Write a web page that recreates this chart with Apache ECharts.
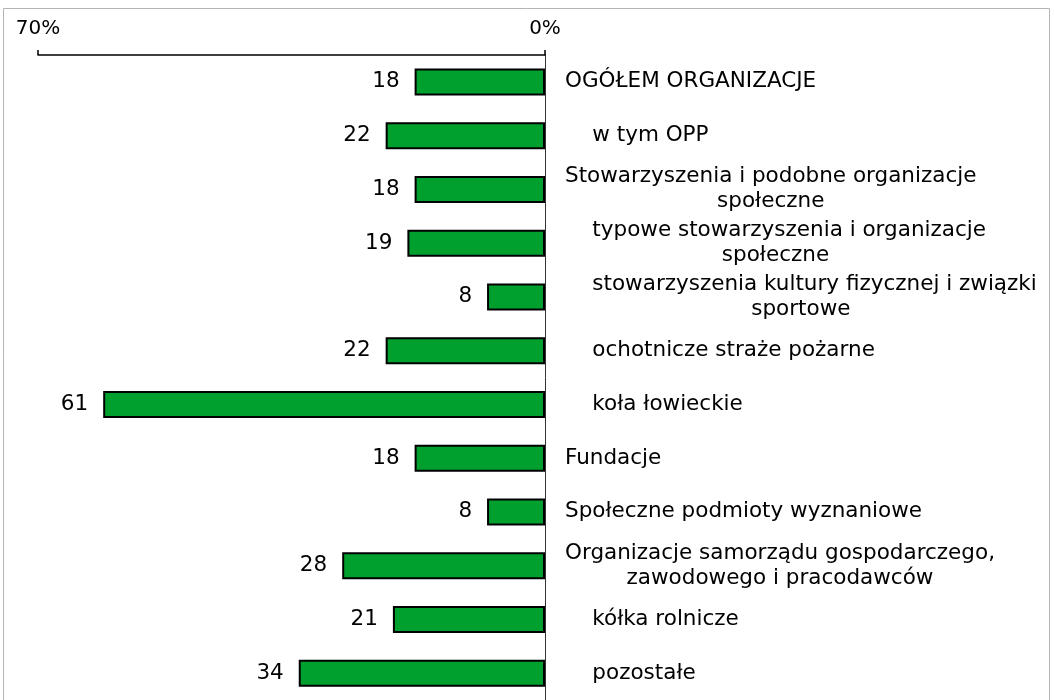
<!DOCTYPE html>
<html lang="pl">
<head>
    <meta charset="UTF-8">
    <title>Organizacje</title>
    <script src="https://cdn.jsdelivr.net/npm/echarts@6/dist/echarts.min.js"></script>
    <style>
        body { margin: 0; background: #fff; }
        #main { width: 1054px; height: 700px; }
    </style>
</head>
<body>
<div id="main"></div>
<script>
    // category lines (leading spaces = indent of sub-items, second line centred like the original)
    var categories = [
        ["OGÓŁEM ORGANIZACJE"],
        ["    w tym OPP"],
        ["Stowarzyszenia i podobne organizacje", "społeczne"],
        ["    typowe stowarzyszenia i organizacje", "społeczne"],
        ["    stowarzyszenia kultury fizycznej i związki", "sportowe"],
        ["    ochotnicze straże pożarne"],
        ["    koła łowieckie"],
        ["Fundacje"],
        ["Społeczne podmioty wyznaniowe"],
        ["Organizacje samorządu gospodarczego,", "zawodowego i pracodawców"],
        ["    kółka rolnicze"],
        ["    pozostałe"]
    ];
    var values = [18, 22, 18, 19, 8, 22, 61, 18, 8, 28, 21, 34];
    var axisMin = 0;
    var axisMax = 70;

    var font = "DejaVu Sans";
    var chart = echarts.init(document.getElementById("main"));

    var option = {
        animation: false,
        graphic: [{
            type: "rect",
            shape: { x: 3.5, y: 8.5, width: 1046, height: 700 },
            style: { fill: "none", stroke: "#b4b4b4", lineWidth: 1 },
            silent: true
        }],
        grid: { left: 38, right: 509, top: 55, bottom: -8 },
        xAxis: {
            type: "value",
            position: "top",
            inverse: true,
            min: axisMin,
            max: axisMax,
            interval: 70,
            splitLine: { show: false },
            axisLine: { show: true, lineStyle: { color: "#000", width: 1.5 } },
            axisTick: { show: true, length: 5, lineStyle: { color: "#000", width: 1.5 } },
            axisLabel: {
                margin: 16,
                fontFamily: font,
                fontSize: 20,
                color: "#000",
                formatter: "{value}%"
            }
        },
        yAxis: {
            type: "category",
            inverse: true,
            position: "right",
            data: categories.map(function (c) { return c.join("\n"); }),
            axisLine: { show: true, onZero: false, lineStyle: { color: "#333", width: 1 } },
            axisTick: { show: false },
            axisLabel: {
                margin: 20,
                align: "left",
                color: "#000",
                fontFamily: font,
                fontSize: 21.5,
                lineHeight: 25,
                formatter: function (v) {
                    return v.split("\n").map(function (l) { return "{c|" + l + "}"; }).join("\n");
                },
                rich: {
                    c: { align: "center", fontFamily: font, fontSize: 21.5, lineHeight: 25, color: "#000" }
                }
            }
        },
        series: [{
            type: "bar",
            data: values,
            barWidth: 27,
            itemStyle: { color: "#00a02e", borderColor: "#000", borderWidth: 2 },
            label: {
                show: true,
                position: "left",
                distance: 15,
                fontFamily: font,
                fontSize: 21.5,
                color: "#000"
            }
        }]
    };
    chart.setOption(option);
</script>
</body>
</html>
